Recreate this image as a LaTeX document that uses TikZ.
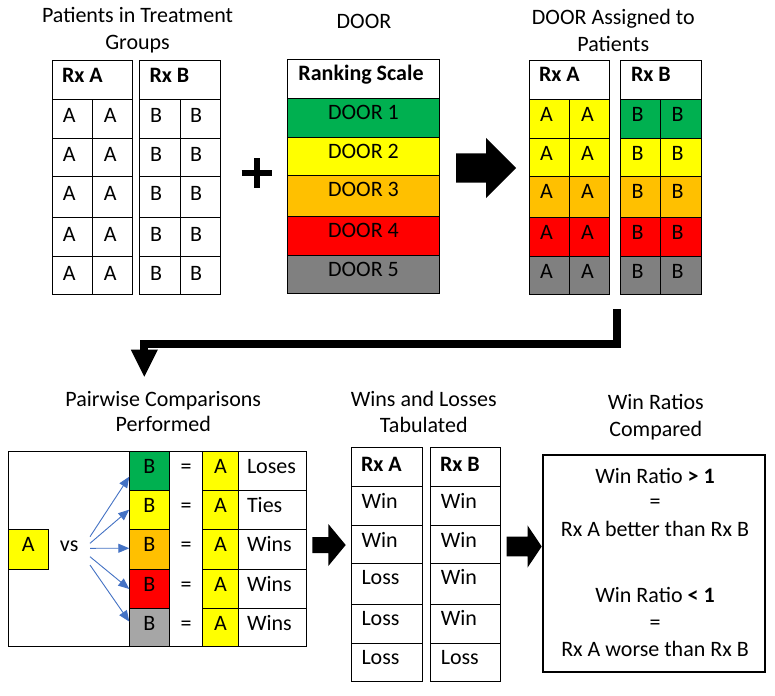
\documentclass[tikz,border=0pt]{standalone}
\usepackage{fontspec}
\setmainfont{Carlito}
\usetikzlibrary{arrows.meta}
\definecolor{dgreen}{HTML}{00B050}
\definecolor{dyellow}{HTML}{FFFF00}
\definecolor{dorange}{HTML}{FFC000}
\definecolor{dred}{HTML}{FF0000}
\definecolor{dgrey}{HTML}{808080}
\definecolor{lgrey}{HTML}{A6A6A6}
\definecolor{ablue}{HTML}{4472C4}
\newcommand\mkcell[6]{\node[cell,fill=#6,minimum width={(#4)-(#2)},minimum height={(#5)-(#3)}] (#1) at ({((#2)+(#4))/2},{((#3)+(#5))/2}) {};}
\begin{document}
\begin{tikzpicture}[x=1pt,y=-1pt,
  every node/.style={font=\fontsize{22}{26}\selectfont, inner sep=0pt, outer sep=0pt},
  cell/.style={draw=black,line width=0.9pt,rectangle,inner sep=0pt,outer sep=0pt},
  txt/.style={anchor=base west},
  ctxt/.style={anchor=base},
  blockarrow/.style={fill=black,draw=none},
  cmp/.style={draw=ablue,line width=0.9pt,-{Triangle[length=11pt,width=9pt]}}
]
\useasboundingbox[fill=white] (0,0) rectangle (775,695);

% ---------- titles ----------
\node[ctxt] (t1a) at (137.5,22.7) {Patients in Treatment};
\node[ctxt] (t1b) at (137.5,50) {Groups};
\node[ctxt] (t2) at (364,28.3) {DOOR};
\node[ctxt] (t3a) at (613.3,25) {DOOR Assigned to};
\node[ctxt] (t3b) at (613.3,51.7) {Patients};
\node[ctxt] (t4a) at (163.3,406) {Pairwise Comparisons};
\node[ctxt] (t4b) at (163.3,431.7) {Performed};
\node[ctxt] (t5a) at (423.8,406.7) {Wins and Losses};
\node[ctxt] (t5b) at (423.8,432.7) {Tabulated};
\node[ctxt] (t6a) at (655.8,409.3) {Win Ratios};
\node[ctxt] (t6b) at (655.8,436) {Compared};

% ---------- patients in treatment groups ----------
\mkcell{ta-h}{52.3}{60.7}{132.3}{99.2}{white}
\mkcell{tb-h}{139.3}{60.7}{220}{99.2}{white}
\node[txt] (ta-ht) at (62,83) {\textbf{Rx A}};
\node[txt] (tb-ht) at (149.5,83) {\textbf{Rx B}};
\foreach \r/\ya/\yb in {1/99.2/138,2/138/176.7,3/176.7/217.3,4/217.3/256.7,5/256.7/294}{
  \mkcell{ta-\r-1}{52.3}{\ya}{92.3}{\yb}{white}
  \mkcell{ta-\r-2}{92.3}{\ya}{132.3}{\yb}{white}
  \mkcell{tb-\r-1}{139.3}{\ya}{180}{\yb}{white}
  \mkcell{tb-\r-2}{180}{\ya}{220}{\yb}{white}
  \node[txt] (ta-\r-1t) at (62.8,{\ya+23.7}) {A};
  \node[txt] (ta-\r-2t) at (103.8,{\ya+23.7}) {A};
  \node[txt] (tb-\r-1t) at (150,{\ya+23.7}) {B};
  \node[txt] (tb-\r-2t) at (190,{\ya+23.7}) {B};
}

% plus sign
\draw[line width=6pt] (241.7,173.3) -- (271.7,173.3);
\draw[line width=6pt] (256.7,158.3) -- (256.7,188.3);

% ---------- DOOR ranking scale ----------
\mkcell{rs-h}{287.3}{59.3}{439.3}{98.3}{white}
\node[ctxt] (rs-ht) at (361,81) {\textbf{Ranking Scale}};
\foreach \r/\ya/\yb/\c in {1/98.3/137.3/dgreen,2/137.3/175/dyellow,3/175/216/dorange,4/216/255.3/dred,5/255.3/293.3/dgrey}{
  \mkcell{rs-\r}{287.3}{\ya}{439.3}{\yb}{\c}
  \node[ctxt] (rs-\r t) at (363.5,{\ya+21.5}) {DOOR \r};
}

% arrow 1
\fill[blockarrow] (456,153.3) -- (486,153.3) -- (486,138) -- (516,168) -- (486,198) -- (486,182.7) -- (456,182.7) -- cycle;

% ---------- DOOR assigned to patients ----------
\mkcell{da-h}{529.3}{60.7}{609.3}{99.3}{white}
\mkcell{db-h}{620.3}{60.7}{701.7}{99.3}{white}
\node[txt] (da-ht) at (539,81.7) {\textbf{Rx A}};
\node[txt] (db-ht) at (631,81.7) {\textbf{Rx B}};
\foreach \r/\ya/\yb/\ca/\cb in {1/99.3/138/dyellow/dgreen,2/138/176.3/dyellow/dyellow,3/176.3/217.3/dorange/dorange,4/217.3/256.3/dred/dred,5/256.3/294/dgrey/dgrey}{
  \mkcell{da-\r-1}{529.3}{\ya}{569.3}{\yb}{\ca}
  \mkcell{da-\r-2}{569.3}{\ya}{609.3}{\yb}{\ca}
  \mkcell{db-\r-1}{620.3}{\ya}{660.3}{\yb}{\cb}
  \mkcell{db-\r-2}{660.3}{\ya}{701.7}{\yb}{\cb}
  \node[txt] (da-\r-1t) at (540,{\ya+22.4}) {A};
  \node[txt] (da-\r-2t) at (581,{\ya+22.4}) {A};
  \node[txt] (db-\r-1t) at (631.5,{\ya+22.4}) {B};
  \node[txt] (db-\r-2t) at (671.5,{\ya+22.4}) {B};
}

% elbow connector
\coordinate (e0) at (616.7,309);
\coordinate (ec) at (144.3,343.5);
\coordinate (e1) at (144.3,376.7);
\draw[line width=8pt,line join=miter,-{Triangle[length=27pt,width=27pt,line width=0pt]}] (e0) |- (ec) -- (e1);

% ---------- pairwise comparisons ----------
\node[cell,minimum width=297.7,minimum height=195.7] (pbox) at (157.15,548.85) {};
\foreach \r/\ya/\yb/\c/\lab in {1/451/490/dgreen/Loses,2/490/529.3/dyellow/Ties,3/529.3/569.3/dorange/Wins,4/569.3/608.7/dred/Wins,5/608.7/646.7/lgrey/Wins}{
  \mkcell{pb\r}{129.3}{\ya}{169.3}{\yb}{\c}
  \mkcell{pa\r}{202.7}{\ya}{238.3}{\yb}{dyellow}
  \mkcell{pl\r}{238.3}{\ya}{306}{\yb}{white}
  \node[ctxt] (pbt\r) at (149.3,{\ya+22}) {B};
  \node[ctxt] (peq\r) at (186,{\ya+22}) {=};
  \node[ctxt] (pat\r) at (220.5,{\ya+22}) {A};
  \node[txt] (plt\r) at (247,{\ya+22}) {\lab};
}
\mkcell{pA}{8.3}{529.3}{48.3}{569.3}{dyellow}
\node[ctxt] (pAt) at (28.3,551.7) {A};
\node[ctxt] (vs) at (69.2,551.7) {vs};
\coordinate (s1) at (90,536.7);
\coordinate (s2) at (90,543.3);
\coordinate (s3) at (90,548.3);
\coordinate (s4) at (90,556.7);
\coordinate (s5) at (90,565);
\draw[cmp] (s1) -- (pb1.197);
\draw[cmp] (s2) -- (pb2.west);
\draw[cmp] (s3) -- (pb3.177);
\draw[cmp] (s4) -- (pb4.west);
\draw[cmp] (s5) -- (pb5.163);

% arrow 2
\fill[blockarrow] (312.3,537) -- (328.3,537) -- (328.3,524) -- (345.7,545) -- (328.3,566) -- (328.3,553) -- (312.3,553) -- cycle;

% ---------- wins and losses tabulated ----------
\mkcell{wa-h}{351.7}{447.7}{422.3}{486.7}{white}
\mkcell{wb-h}{430.7}{447.7}{500.3}{486.7}{white}
\node[txt] (wa-ht) at (361,471.7) {\textbf{Rx A}};
\node[txt] (wb-ht) at (440,471.7) {\textbf{Rx B}};
\foreach \r/\ya/\yb/\va/\vb in {1/486.7/525.7/Win/Win,2/525.7/563.3/Win/Win,3/563.3/604.3/Loss/Win,4/604.3/643.3/Loss/Win,5/643.3/681.7/Loss/Loss}{
  \mkcell{wa-\r}{351.7}{\ya}{422.3}{\yb}{white}
  \mkcell{wb-\r}{430.7}{\ya}{500.3}{\yb}{white}
  \node[txt] (wa-\r t) at (361.5,{\ya+21.6}) {\va};
  \node[txt] (wb-\r t) at (440.8,{\ya+21.6}) {\vb};
}

% arrow 3
\fill[blockarrow] (506.7,536.7) -- (527.5,536.7) -- (527.5,525.3) -- (541.7,546.5) -- (527.5,567.7) -- (527.5,556.3) -- (506.7,556.3) -- cycle;

% ---------- win ratios compared ----------
\node[draw=black,line width=2.3pt,minimum width=222,minimum height=217.5] (wr) at (654.2,563.4) {};
\node[ctxt] (wr1) at (655,483.3) {Win Ratio \textbf{> 1}};
\node[ctxt] (wr2) at (655,508) {=};
\node[ctxt] (wr3) at (655,536.7) {Rx A better than Rx B};
\node[ctxt] (wr4) at (655,602.7) {Win Ratio \textbf{< 1}};
\node[ctxt] (wr5) at (655,629) {=};
\node[ctxt] (wr6) at (655,656.7) {Rx A worse than Rx B};
\end{tikzpicture}
\end{document}
